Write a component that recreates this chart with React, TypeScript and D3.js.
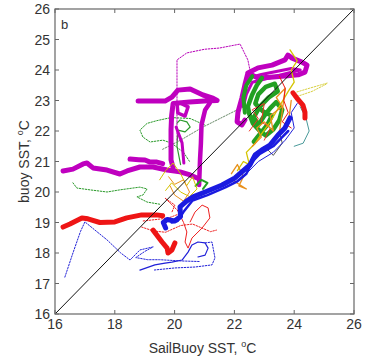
import React from 'react';
import * as d3 from 'd3';

const width = 366;
const height = 361;
const margin = { left: 55, right: 12, top: 9, bottom: 47 };

const xTicks = [16, 18, 20, 22, 24, 26];
const yTicks = [16, 17, 18, 19, 20, 21, 22, 23, 24, 25, 26];

// trajectories, [SailBuoy SST, buoy SST]
const magentaWest = [[16.27,20.69],[16.6,20.75],[16.94,20.92],[17.07,20.95],[17.27,20.79],[17.74,20.72],[18.17,20.59],[18.41,20.69],[18.84,20.82],[19.28,20.82],[19.75,20.72],[20.18,20.66],[20.52,20.56],[20.75,20.46]];
const magentaBump = [[18.51,21.08],[18.8,21.06],[19.01,21.05],[19.18,20.98],[19.41,20.98],[19.6,20.93]];
const magentaBar = [[18.78,22.98],[19.18,22.98],[19.68,22.98],[19.91,23.11],[20.11,23.34],[20.52,23.38],[20.95,23.18],[21.28,23.08],[21.42,23.0],[21.0,22.98],[20.5,22.95],[19.95,22.9],[19.9,22.5],[19.88,22.03],[19.88,21.5],[19.88,21.05],[19.95,20.79]];
const magentaStem = [[21.18,22.92],[21.02,22.69],[20.9,22.2],[20.88,21.6],[20.85,21.05],[20.82,20.23]];
const magentaLoop = [[20.08,22.92],[20.11,22.59],[20.35,22.49],[20.45,22.79],[20.25,22.89]];
const magentaLow = [[20.05,22.13],[20.25,21.61],[20.31,20.95]];
const magentaEast = [[22.45,23.9],[22.79,24.07],[23.26,24.16],[23.69,24.33],[23.79,24.49],[23.93,24.39],[24.26,24.26],[24.43,24.16],[24.36,23.93],[24.13,23.84],[23.69,23.8],[23.2,23.76],[22.79,23.74],[22.45,23.9],[22.35,23.51],[22.25,23.08],[22.12,22.62],[22.09,22.3],[22.25,22.2],[22.35,22.36]];
const magentaEastInner = [[22.5,23.75],[22.9,23.85],[23.4,23.95],[23.9,24.05],[24.2,24.0],[22.6,23.6],[22.4,23.2],[22.3,22.8]];
const magentaThin = [[20.08,21.7],[20.08,22.6],[20.08,23.57],[20.08,24.33],[20.41,24.56],[21.0,24.68],[21.5,24.72],[22.19,24.85],[22.45,24.33],[22.52,24.0]];

const redWest = [[16.27,18.85],[16.5,18.95],[16.9,19.15],[17.1,19.12],[17.5,19.0],[18.0,19.02],[18.4,19.15],[18.9,19.25],[19.4,19.25],[19.6,19.22]];
const redSouth = [[19.28,18.75],[19.58,18.36],[19.75,18.16],[19.78,18.0],[19.91,18.1],[20.01,18.33]];
const redEast = [[23.96,23.25],[24.09,23.08],[24.29,22.85],[24.36,22.62],[24.36,22.43]];
const redLoop = [[20.52,19.02],[20.68,19.34],[20.92,19.57],[21.12,19.48],[21.18,19.15],[20.92,18.82],[20.58,18.49],[20.45,18.16],[20.35,18.36],[20.41,18.69],[20.3,19.0],[20.1,19.4]];
const redFanA = [[18.9,18.85],[19.3,18.72],[19.7,18.68],[20.2,18.9],[20.6,18.95],[21.2,18.7],[21.4,18.75]];
const redFanB = [[18.95,19.05],[19.4,19.1],[19.8,19.15],[20.2,19.3],[19.68,19.8],[20.01,19.57],[19.91,19.34]];
const redNorth = [[23.5,23.8],[23.7,23.4],[23.65,23.0],[23.8,22.6],[23.6,22.3],[23.9,22.1]];
const redCluster = [[22.5,22.0],[22.8,22.4],[22.6,22.7],[23.0,22.9],[22.9,22.3],[23.2,22.1],[23.0,21.7]];

const blueMain = [[19.7,18.82],[19.62,19.0],[19.75,19.1],[20.0,19.05],[20.2,19.2],[20.18,19.51],[20.4,19.7],[20.62,19.84],[21.02,20.0],[21.59,20.23],[22.02,20.46],[22.25,20.66],[22.52,20.89],[22.69,21.21],[22.92,21.38],[23.19,21.54],[23.46,21.87],[23.69,22.1],[23.86,22.43]];
const blueTwin = [[19.9,19.0],[20.1,19.05],[20.3,19.35],[20.6,19.72],[21.1,19.9],[21.7,20.15],[22.1,20.35],[22.4,20.6],[22.6,21.0],[22.85,21.25],[23.3,21.5],[23.55,21.75],[23.8,22.0]];
const blueWest = [[16.33,17.21],[16.6,18.0],[16.85,18.7],[17.0,19.02],[17.4,18.7],[17.74,18.43],[18.2,18.0],[18.51,17.77],[18.84,18.1],[19.28,18.2],[19.0,18.05],[18.7,17.85],[19.1,17.78],[19.5,17.78],[20.2,17.74],[20.85,17.72]];
const blueLoop = [[18.84,17.44],[19.34,17.61],[19.68,17.67],[19.91,17.7],[20.25,17.77],[20.45,18.03],[20.58,18.26],[20.78,18.36],[21.02,18.33],[21.12,18.16],[21.02,17.93],[20.78,17.87]];
const blueOuter = [[21.02,18.33],[21.25,18.36],[21.35,17.84],[21.25,17.61],[20.68,17.54],[20.01,17.51],[19.3,17.44]];
const blueThin = [[22.3,20.5],[22.8,21.0],[23.3,21.3],[23.7,21.7],[24.0,22.1],[23.9,22.6],[24.1,22.9]];

const greenMain = [[22.92,23.74],[22.75,23.5],[22.59,23.18],[22.45,22.8],[22.5,22.55],[22.62,22.25],[22.85,22.0],[23.05,21.85],[23.3,22.05],[23.5,22.35],[23.6,22.7],[23.4,22.95],[23.2,22.75],[23.0,22.5],[22.8,22.2],[22.65,22.45],[22.85,22.8],[23.15,23.1],[23.45,23.3],[23.35,23.55],[23.05,23.45],[22.8,23.2],[22.7,22.9],[22.95,22.65],[23.25,22.5],[23.1,22.2],[22.85,21.9],[22.65,21.65]];
const greenStrip = [[22.6,23.8],[22.4,23.5],[22.3,23.1],[22.35,22.6]];
const greenSmall = [[20.7,20.2],[20.9,20.4],[21.1,20.3],[20.95,20.1]];
const greenWest = [[16.6,20.3],[16.73,20.13],[17.17,20.07],[17.74,20.0],[18.17,20.07],[18.61,20.13],[18.84,20.16],[19.08,20.1],[18.94,19.9],[18.74,19.84],[19.08,19.67],[19.5,19.6]];
const greenArc = [[21.0,22.2],[20.52,22.41],[19.88,22.44],[19.41,22.34],[19.08,22.25],[18.84,22.03],[18.94,21.8],[19.18,21.64],[19.61,21.7],[19.9,21.6],[20.3,21.3],[20.5,21.0]];
const greenCurl = [[20.08,22.26],[20.18,22.36],[20.41,22.3],[20.52,22.13],[20.35,21.97],[20.11,22.03],[20.08,21.5],[20.2,20.9]];
const grayDiag = [[19.6,21.4],[20.2,21.7],[20.95,22.13],[21.6,22.45],[22.29,22.79]];

const yellowEastA = [[24.09,23.28],[24.5,23.4],[25.1,23.57]];
const yellowEastB = [[24.0,23.1],[24.6,23.3],[25.1,23.55]];
const yellowWest = [[19.5,20.4],[19.7,20.7],[19.95,20.95],[20.2,20.6],[20.4,20.2],[20.6,20.5],[20.75,20.1],[20.5,19.85],[20.2,20.0],[19.9,20.3],[19.7,20.05]];
const orangeWest = [[19.8,20.5],[20.0,20.25],[20.3,20.4],[20.5,20.0],[20.3,19.7],[20.0,19.9],[19.85,20.2]];
const yellowNorth = [[22.1,20.7],[22.3,21.0],[22.5,20.9],[22.4,21.3],[22.7,21.6],[22.9,21.9],[23.2,22.3],[23.5,22.8],[23.8,23.3],[24.0,23.6],[23.9,24.0],[24.1,24.3],[23.86,24.66]];
const orangeNorth = [[22.6,21.5],[22.9,21.8],[22.75,22.1],[23.0,22.3],[23.3,22.0],[23.2,22.5],[23.6,22.8],[23.4,23.1],[23.7,23.4],[23.5,21.9],[23.8,22.2],[23.9,23.0]];
const orangeMid = [[21.9,20.6],[22.1,20.9],[22.3,20.5],[22.15,20.2],[22.4,20.1],[22.0,20.35]];
const grayEast = [[22.7,21.1],[23.0,21.5],[23.3,21.2],[23.6,21.6],[23.5,22.0]];
const tealEast = [[24.2,22.8],[24.4,22.4],[24.5,22.0],[24.3,21.6],[24.0,21.5]];

const series = [
  { d: blueWest, c: '#2020d8', w: 1, dash: '1.5 1.5' },
  { d: blueOuter, c: '#2020d8', w: 1, dash: '1.5 1.5' },
  { d: blueLoop, c: '#2020d8', w: 1.2 },
  { d: redFanA, c: '#ee2020', w: 1, dash: '1.5 1.5' },
  { d: redFanB, c: '#ee2020', w: 1, dash: '1.5 1.5' },
  { d: redLoop, c: '#ee2020', w: 1 },
  { d: greenWest, c: '#2a9a2a', w: 1, dash: '1.5 1.5' },
  { d: greenArc, c: '#2a9a2a', w: 1, dash: '1.5 1.5' },
  { d: greenCurl, c: '#2a9a2a', w: 1.2 },
  { d: grayDiag, c: '#6a8a6a', w: 1, dash: '1.5 1.5' },
  { d: magentaThin, c: '#b800b8', w: 1, dash: '1.5 1.5' },
  { d: yellowEastA, c: '#d8d040', w: 1, dash: '1.5 1.5' },
  { d: yellowEastB, c: '#d8d040', w: 1, dash: '1.5 1.5' },
  { d: magentaWest, c: '#bf00bf', w: 5 },
  { d: magentaBump, c: '#bf00bf', w: 5 },
  { d: magentaBar, c: '#bf00bf', w: 5 },
  { d: magentaStem, c: '#bf00bf', w: 4.5 },
  { d: magentaLoop, c: '#bf00bf', w: 3.5 },
  { d: magentaLow, c: '#bf00bf', w: 3 },
  { d: magentaEast, c: '#bf00bf', w: 5 },
  { d: magentaEastInner, c: '#bf00bf', w: 3 },
  { d: greenStrip, c: '#22a022', w: 4 },
  { d: greenMain, c: '#22a022', w: 4.5 },
  { d: greenSmall, c: '#22a022', w: 2 },
  { d: redCluster, c: '#ee3020', w: 1 },
  { d: yellowWest, c: '#d4c400', w: 1 },
  { d: orangeWest, c: '#e8901c', w: 1 },
  { d: yellowNorth, c: '#d4c400', w: 1.3 },
  { d: orangeNorth, c: '#e8901c', w: 1.3 },
  { d: orangeMid, c: '#e8901c', w: 1.3 },
  { d: grayEast, c: '#555555', w: 1 },
  { d: tealEast, c: '#4a9a9a', w: 1 },
  { d: blueThin, c: '#2020d8', w: 1 },
  { d: redWest, c: '#ee1515', w: 5 },
  { d: redSouth, c: '#ee1515', w: 5 },
  { d: redEast, c: '#ee1515', w: 5 },
  { d: redNorth, c: '#ee1515', w: 1 },
  { d: blueTwin, c: '#1a1ae0', w: 2.5 },
  { d: blueMain, c: '#1a1ae0', w: 5 },
];

export default function App() {
  const x = d3.scaleLinear().domain([16, 26]).range([margin.left, width - margin.right]);
  const y = d3.scaleLinear().domain([16, 26]).range([height - margin.bottom, margin.top]);
  const line = d3.line<number[]>().x((p) => x(p[0])).y((p) => y(p[1]));
  const x0 = x(16), x1 = x(26), y0 = y(16), y1 = y(26);
  const font = 'Liberation Sans, Arial, sans-serif';

  return (
    <svg width={width} height={height} style={{ position: 'absolute', left: 0, top: 0, background: '#fff' }}>
      <rect x={0} y={0} width={width} height={height} fill="#fff" />
      <g fill="none" strokeLinejoin="round" strokeLinecap="round">
        {series.map((s, i) => (
          <path key={i} d={line(s.d) || ''} stroke={s.c} strokeWidth={s.w} strokeDasharray={s.dash} />
        ))}
      </g>
      <line x1={x(16)} y1={y(16)} x2={x(26)} y2={y(26)} stroke="#111" strokeWidth={1} />
      <rect x={x0} y={y1} width={x1 - x0} height={y0 - y1} fill="none" stroke="#666" strokeWidth={1.2} />
      <g stroke="#666" strokeWidth={1}>
        {xTicks.map((t) => (
          <g key={'x' + t}>
            <line x1={x(t)} x2={x(t)} y1={y0} y2={y0 - 4} />
            <line x1={x(t)} x2={x(t)} y1={y1} y2={y1 + 4} />
          </g>
        ))}
        {yTicks.map((t) => (
          <g key={'y' + t}>
            <line x1={x0} x2={x0 + 4} y1={y(t)} y2={y(t)} />
            <line x1={x1} x2={x1 - 4} y1={y(t)} y2={y(t)} />
          </g>
        ))}
      </g>
      <g fontFamily={font} fontSize={14} fill="#333">
        {xTicks.map((t) => (
          <text key={'xl' + t} x={x(t)} y={y0 + 15} textAnchor="middle">{t}</text>
        ))}
        {yTicks.map((t) => (
          <text key={'yl' + t} x={x0 - 5} y={y(t) + 5} textAnchor="end">{t}</text>
        ))}
        <text x={(x0 + x1) / 2 - 2} y={353} textAnchor="middle">
          SailBuoy SST, <tspan dy={-6} fontSize={9}>o</tspan><tspan dy={6}>C</tspan>
        </text>
        <text transform={`translate(29,${(y0 + y1) / 2}) rotate(-90)`} textAnchor="middle">
          buoy SST, <tspan dy={-6} fontSize={9}>o</tspan><tspan dy={6}>C</tspan>
        </text>
        <text x={61} y={29} fontSize={13}>b</text>
      </g>
    </svg>
  );
}
